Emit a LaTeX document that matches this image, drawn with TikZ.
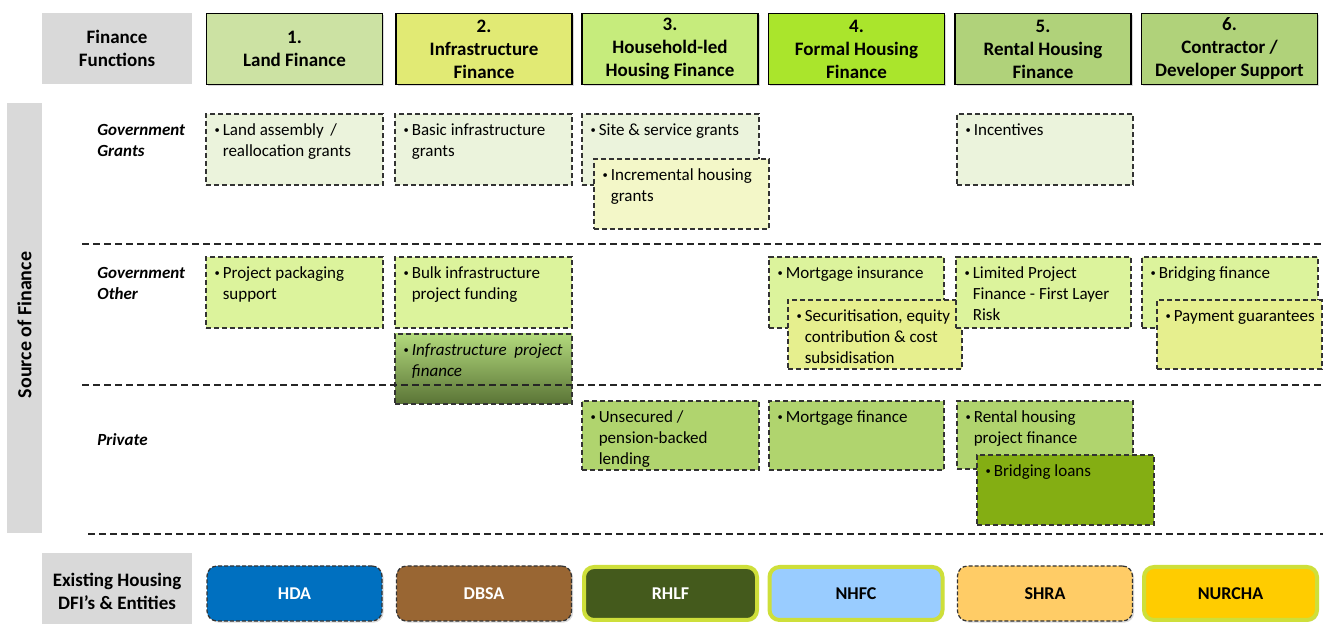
\documentclass[tikz,border=0pt]{standalone}
\usepackage{fontspec}
\usepackage{graphicx}
\setmainfont{Carlito}
\usetikzlibrary{fit,shadows}

% palette
\definecolor{greybg}{HTML}{D9D9D9}
\definecolor{hdrA}{HTML}{CCE2A3}
\definecolor{hdrB}{HTML}{E1EA74}
\definecolor{hdrC}{HTML}{C6EC7C}
\definecolor{hdrD}{HTML}{AAE52C}
\definecolor{hdrE}{HTML}{B0D27A}
\definecolor{grantC}{HTML}{EBF3DC}
\definecolor{grantY}{HTML}{F3F7C8}
\definecolor{otherC}{HTML}{DCF39C}
\definecolor{otherY}{HTML}{E6EF8E}
\definecolor{privC}{HTML}{B0D46E}
\definecolor{loanC}{HTML}{84AE13}
\definecolor{ipfTop}{HTML}{B2D97C}
\definecolor{ipfBot}{HTML}{5A7436}
\definecolor{hdaC}{HTML}{0070C0}
\definecolor{dbsaC}{HTML}{996633}
\definecolor{rhlfC}{HTML}{445A1C}
\definecolor{nhfcC}{HTML}{99CCFF}
\definecolor{shraC}{HTML}{FFCC66}
\definecolor{nurchaC}{HTML}{FFCC00}
\definecolor{rimC}{HTML}{CEDF3A}

% type sizes
\newcommand\celltxt{\fontsize{8.5pt}{10.5pt}\selectfont}
\newcommand\hdrtxt{\fontsize{9.5pt}{11.5pt}\selectfont\bfseries}
\newcommand\enttxt{\fontsize{9pt}{11pt}\selectfont\bfseries}

% bulleted entry, first line aligned with the bullet
\newcommand\smalldot{\hspace{0.9pt}\raisebox{0.9pt}{\scalebox{0.62}{\textbullet}}}
\newcommand\bul[1]{\makebox[5pt][l]{\smalldot}\begin{tabular}[t]{@{}l@{}}#1\end{tabular}}
\newcommand\rowlines[1]{\begin{tabular}[t]{@{}l@{}}#1\end{tabular}}

\tikzset{
  sz/.style 2 args={minimum width=#1*0.5pt, minimum height=#2*0.5pt},
  softshadow/.style={drop shadow={shadow xshift=0.8pt, shadow yshift=-0.8pt, opacity=0.3}},
  hdrbox/.style={draw=black, line width=0.6pt, inner sep=0pt, align=center,
    font=\hdrtxt, sz={176}{71}, softshadow},
  greybox/.style={fill=greybg, inner sep=0pt, align=center, font=\hdrtxt},
  cellbox/.style={draw=black!80, line width=0.6pt, dash pattern=on 2.6pt off 1.4pt, inner sep=0pt},
  celltext/.style={anchor=north west, inner xsep=3.5pt, inner ysep=3.6pt, font=\celltxt},
  rowlabel/.style={anchor=base west, inner sep=0pt, font=\celltxt\bfseries\itshape},
  sepline/.style={draw=black!85, line width=0.6pt, dash pattern=on 3.5pt off 2pt},
  entity/.style={rounded corners=5pt, inner sep=0pt, font=\enttxt, softshadow},
  dashrim/.style={draw=black!80, line width=0.6pt, dash pattern=on 2pt off 1pt, sz={175}{55}},
  greenrim/.style={draw=rimC, line width=2pt, sz={173}{53}},
}

% one dashed cell: name, x1, y1, x2, y2, fill options, entry lines
\newcommand\cell[7]{%
  \node[cellbox, #6, fit={(#2,#3) (#4,#5)}] (#1) {};
  \node[celltext] (#1-t) at (#1.north west) {\bul{#7}};
}

\begin{document}
\begin{tikzpicture}[x=0.5pt, y=-0.5pt]
\useasboundingbox (0,0) rectangle (1323,624);

% column headings
\node[greybox, sz={150}{71}] (ffun) at (117,48.5) {Finance\\Functions};
\node[hdrbox, fill=hdrA] (h1) at (294.5,49) {1.\\Land Finance};
\node[hdrbox, fill=hdrB] (h2) at (484,49) {2.\\Infrastructure\\Finance};
\node[hdrbox, fill=hdrC] (h3) at (670,49) {3.\\Household-led\\Housing Finance};
\node[hdrbox, fill=hdrD] (h4) at (856.5,49) {4.\\Formal Housing\\Finance};
\node[hdrbox, fill=hdrE] (h5) at (1043,49) {5.\\Rental Housing\\Finance};
\node[hdrbox, fill=hdrE] (h6) at (1229.5,49) {6.\\Contractor /\\Developer Support};

% source-of-finance side bar
\node[fill=greybg, inner sep=0pt, sz={35}{430}] (srcbar) at (24.5,318) {};
\node[rotate=90, inner sep=0pt, font=\fontsize{10pt}{12pt}\selectfont\bfseries] (srclabel) at (24.5,325) {Source of Finance};

% row labels
\node[rowlabel] (rgrants) at (97,136) {\rowlines{Government\\Grants}};
\node[rowlabel] (rother) at (97,279) {\rowlines{Government\\Other}};
\node[rowlabel] (rpriv) at (97,446) {Private};

% government grants
\cell{g1}{206}{114}{383}{185}{fill=grantC}{Land assembly \,/\\reallocation grants}
\cell{g2}{395}{114}{572}{185}{fill=grantC}{Basic infrastructure\\grants}
\cell{g3}{582}{114}{759}{185}{fill=grantC}{Site \& service grants}
\cell{g3b}{594}{159}{769}{229}{fill=grantY}{Incremental housing\\grants}
\cell{g5}{957}{114}{1133}{185}{fill=grantC}{Incentives}

% government other
\cell{o1}{206}{257}{383}{328}{fill=otherC}{Project packaging\\support}
\cell{o2}{395}{257}{572}{328}{fill=otherC}{Bulk infrastructure\\project funding}
\cell{o2b}{395}{334}{572}{404}{top color=ipfTop, bottom color=ipfBot}{\textit{Infrastructure \ project}\\\textit{finance}}
\cell{o4}{769}{257}{944}{328}{fill=otherC}{Mortgage insurance}
\cell{o4b}{788}{300}{962}{369}{fill=otherY}{Securitisation, equity\\contribution \& cost\\subsidisation}
\cell{o5}{956}{257}{1131}{328}{fill=otherC}{Limited Project\\Finance - First Layer\\Risk}
\cell{o6}{1142}{257}{1318}{328}{fill=otherC}{Bridging finance}
\cell{o6b}{1157}{300}{1322}{369}{fill=otherY}{Payment guarantees}

% private
\cell{p3}{582}{401}{759}{470}{fill=privC}{Unsecured /\\pension-backed\\lending}
\cell{p4}{769}{401}{944}{470}{fill=privC}{Mortgage finance}
\cell{p5}{957}{401}{1133}{469}{fill=privC}{Rental housing\\project finance}
\cell{p5b}{977}{455}{1154}{525}{fill=loanC}{Bridging loans}

% row separators
\draw[sepline] (82,244) -- (1323,244);
\draw[sepline] (82,385) -- (1323,385);
\draw[sepline] (88,534) -- (1323,534);

% existing institutions
\node[greybox, minimum width=75pt, minimum height=38pt] (dfi) at (117,591) {Existing Housing\\DFI’s \& Entities};
\node[entity, dashrim, fill=hdaC, text=white] (hda) at (294.5,593.5) {HDA};
\node[entity, dashrim, fill=dbsaC, text=white] (dbsa) at (484,593.5) {DBSA};
\node[entity, greenrim, fill=rhlfC, text=white] (rhlf) at (670.5,593.5) {RHLF};
\node[entity, greenrim, fill=nhfcC] (nhfc) at (856,593.5) {NHFC};
\node[entity, dashrim, fill=shraC] (shra) at (1045,593.5) {SHRA};
\node[entity, greenrim, fill=nurchaC] (nurcha) at (1230.5,593.5) {NURCHA};
\end{tikzpicture}
\end{document}
